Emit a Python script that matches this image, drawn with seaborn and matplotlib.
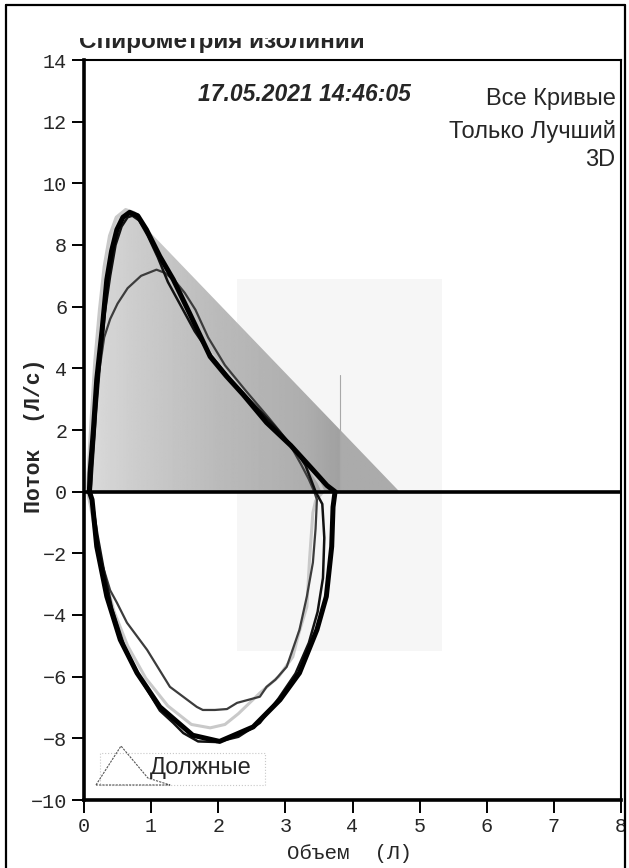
import numpy as np
import pandas as pd
import matplotlib
matplotlib.use("Agg")
import matplotlib.pyplot as plt
import seaborn as sns
from matplotlib.patches import Polygon, Rectangle
from matplotlib.lines import Line2D

# ---------------- data ----------------
x_ticks = [0, 1, 2, 3, 4, 5, 6, 7, 8]
y_ticks = [14, 12, 10, 8, 6, 4, 2, 0, -2, -4, -6, -8, -10]

# predicted ("Должные") shaded area
pred_x = [0.05, 0.10, 0.20, 0.30, 0.45, 0.60, 0.66, 4.70]
pred_y = [0.0, 2.5, 5.5, 7.5, 8.8, 9.12, 9.15, 0.0]

# trial 1 (best, thick)
exp1_x = [0.08, 0.09, 0.14, 0.19, 0.27, 0.34, 0.41, 0.49, 0.58, 0.68, 0.80, 0.93, 1.13, 1.33, 1.57, 1.88, 2.12, 2.37, 2.72, 3.08, 3.41, 3.62, 3.74]
exp1_y = [0, 0.6, 2.0, 3.64, 5.26, 6.88, 7.8, 8.5, 8.9, 9.06, 8.95, 8.5, 7.63, 6.88, 5.8, 4.38, 3.75, 3.15, 2.24, 1.5, 0.71, 0.2, 0]
insp1_x = [3.71, 3.69, 3.61, 3.47, 3.21, 2.92, 2.52, 2.02, 1.62, 1.13, 0.79, 0.54, 0.34, 0.19, 0.12, 0.08]
insp1_y = [-0.5, -1.78, -3.4, -4.48, -5.88, -6.75, -7.63, -8.1, -7.9, -6.98, -5.88, -4.8, -3.4, -1.78, -0.26, 0]

# trial 2
exp2_x = [0.10, 0.13, 0.18, 0.24, 0.31, 0.39, 0.47, 0.56, 0.65, 0.72, 0.82, 0.95, 1.10, 1.25, 1.45, 1.65, 1.90, 2.20, 2.50, 2.85, 3.15, 3.30, 3.38, 3.45]
exp2_y = [0, 1.0, 2.6, 4.2, 5.8, 7.0, 8.0, 8.6, 8.9, 8.95, 8.8, 8.3, 7.6, 6.8, 6.0, 5.2, 4.4, 3.6, 2.9, 2.1, 1.35, 0.85, 0.4, 0]
insp2_x = [3.55, 3.58, 3.56, 3.48, 3.35, 3.15, 2.90, 2.62, 2.30, 1.98, 1.70, 1.48, 1.33, 1.13, 0.85, 0.60, 0.42, 0.30, 0.20, 0.13, 0.10]
insp2_y = [-0.4, -1.5, -2.8, -3.9, -4.9, -5.9, -6.7, -7.5, -7.95, -8.12, -8.1, -7.83, -7.5, -7.1, -6.1, -5.0, -3.8, -2.6, -1.4, -0.4, 0]

# trial 3 (low peak)
exp3_x = [0.10, 0.12, 0.16, 0.22, 0.30, 0.39, 0.50, 0.65, 0.85, 1.08, 1.20, 1.35, 1.50, 1.66, 1.85, 2.10, 2.40, 2.75, 3.05, 3.23, 3.35, 3.43]
exp3_y = [0, 1.2, 2.4, 3.8, 5.0, 5.6, 6.1, 6.6, 7.0, 7.2, 7.1, 6.85, 6.45, 5.9, 5.0, 4.1, 3.3, 2.4, 1.6, 0.9, 0.4, 0]
insp3_x = [3.47, 3.45, 3.41, 3.32, 3.21, 3.02, 2.85, 2.72, 2.62, 2.28, 2.13, 1.95, 1.77, 1.68, 1.28, 0.94, 0.64, 0.49, 0.39, 0.25, 0.14, 0.10]
insp3_y = [-0.26, -1.2, -2.3, -3.4, -4.48, -5.68, -6.1, -6.33, -6.65, -6.85, -7.05, -7.08, -7.08, -6.98, -6.33, -5.13, -4.25, -3.6, -3.2, -2.2, -0.8, 0]

# trial 4 (light)
exp4_x = [0.05, 0.07, 0.11, 0.16, 0.23, 0.30, 0.38, 0.48, 0.62, 0.75, 0.90, 1.10, 1.30, 1.55, 1.85, 2.15, 2.45, 2.80, 3.10, 3.35, 3.50, 3.56]
exp4_y = [0, 1.0, 2.5, 4.2, 5.9, 7.3, 8.3, 8.9, 9.15, 9.05, 8.6, 7.8, 7.0, 5.9, 4.6, 3.8, 3.1, 2.2, 1.5, 0.8, 0.3, 0]
insp4_x = [3.45, 3.41, 3.36, 3.32, 3.20, 3.11, 2.90, 2.62, 2.30, 2.10, 1.88, 1.60, 1.25, 0.92, 0.65, 0.45, 0.30, 0.18, 0.10, 0.05]
insp4_y = [-0.3, -0.68, -2.2, -3.73, -4.6, -5.36, -6.0, -6.53, -7.2, -7.55, -7.66, -7.55, -6.95, -6.05, -5.0, -3.9, -2.7, -1.5, -0.5, 0]

fvc_line_x = 3.81
fvc_line_top = 3.8
bg_box_x = [2.28, 5.33]
bg_box_y = [-5.16, 6.9]

trials = [
    ("4", exp4_x + insp4_x, exp4_y + insp4_y, "#c9c9c9", 2.2),
    ("3", exp3_x + insp3_x, exp3_y + insp3_y, "#3c3c3c", 1.6),
    ("2", exp2_x + insp2_x, exp2_y + insp2_y, "#111111", 1.8),
    ("1", exp1_x + insp1_x, exp1_y + insp1_y, "#000000", 3.6),
]

# ---------------- figure ----------------
sns.set_style("white")
plt.rcParams["font.family"] = ["Liberation Sans", "DejaVu Sans"]

W, H = 629, 868
fig = plt.figure(figsize=(W / 100, H / 100), dpi=100)
ax = fig.add_axes([84 / W, 1 - 800 / H, (621 - 84) / W, (800 - 60) / H])

# background "3D" box
ax.add_patch(Rectangle((bg_box_x[0], bg_box_y[0]), bg_box_x[1] - bg_box_x[0],
                       bg_box_y[1] - bg_box_y[0], facecolor="#f6f6f6",
                       edgecolor="none", zorder=0))

# predicted gradient triangle
poly = Polygon(list(zip(pred_x, pred_y)), closed=True, facecolor="none",
               edgecolor="none", transform=ax.transData)
ax.add_patch(poly)
gx = np.linspace(0, 4.8, 400)
stops_x = [0.0, 0.8, 2.0, 3.3, 3.80, 3.82, 4.8]
stops_v = [0.86, 0.80, 0.73, 0.68, 0.63, 0.67, 0.67]
grad = np.interp(gx, stops_x, stops_v)[None, :]
im = ax.imshow(grad, extent=[0, 4.8, 0, 9.3], origin="lower", cmap="gray",
               vmin=0, vmax=1, aspect="auto", interpolation="bilinear", zorder=1)
im.set_clip_path(poly)
ax.plot([fvc_line_x, fvc_line_x], [0, fvc_line_top], color="#a8a8a8", lw=0.8, zorder=1.5)

# curves
for name, vx, vy, col, lw in trials:
    df = pd.DataFrame({"vol": vx, "flow": vy})
    sns.lineplot(data=df, x="vol", y="flow", sort=False, estimator=None,
                 color=col, lw=lw, ax=ax, zorder=3)

ax.axhline(0, color="black", lw=2.6, zorder=4)

ax.set_xlim(0, 8)
ax.set_ylim(-10, 14)
ax.set_xticks(x_ticks)
ax.set_yticks(y_ticks)
mono = ["Liberation Mono", "DejaVu Sans Mono"]
ax.set_xticklabels([str(t) for t in x_ticks], fontfamily=mono, fontsize=14.5)
ax.set_yticklabels([str(t).replace("-", "\u2212") for t in y_ticks], fontfamily=mono, fontsize=14.5)
ax.tick_params(axis="both", direction="out", length=9, width=1.4, color="black",
               left=True, bottom=True, top=False, right=False, pad=3)
for side, lw in [("left", 2.6), ("bottom", 2.6), ("top", 1.5), ("right", 1.5)]:
    ax.spines[side].set_visible(True)
    ax.spines[side].set_color("black")
    ax.spines[side].set_linewidth(lw)
ax.grid(False)

ax.set_xlabel("Объем  (Л)", fontfamily=mono, fontsize=15)
ax.xaxis.set_label_coords(0.495, -0.072)
ax.xaxis.label.set_va("center")
ax.set_ylabel("Поток  (Л/с)", fontfamily=mono, fontsize=15.5, fontweight="bold")
ax.yaxis.set_label_coords(-0.092, 0.492)
ax.yaxis.label.set_va("center")

# texts
ax.text(0.411, 0.953, "17.05.2021 14:46:05", transform=ax.transAxes,
        ha="center", va="center", fontsize=16.5, fontweight="bold", fontstyle="italic")
ax.text(0.990, 0.947, "Все Кривые", transform=ax.transAxes, ha="right", va="center", fontsize=17)
ax.text(0.990, 0.903, "Только Лучший", transform=ax.transAxes, ha="right", va="center", fontsize=17)
ax.text(0.990, 0.865, "3D", transform=ax.transAxes, ha="right", va="center", fontsize=17)

# legend box
ax.add_patch(Rectangle((0.0298, 0.0203), 0.307, 0.0432, transform=ax.transAxes,
                       facecolor="white", edgecolor="#c8c8c8", lw=0.8, ls=":", zorder=5))
ax.add_line(Line2D([0.0223, 0.0689, 0.119, 0.160, 0.0223], [0.0203, 0.073, 0.0297, 0.0203, 0.0203],
                   transform=ax.transAxes, color="#555555", lw=0.8, ls=(0, (2, 1)), zorder=6))
ax.text(0.123, 0.0432, "Должные", transform=ax.transAxes, ha="left", va="center",
        fontsize=17, zorder=7)

# clipped title
t = fig.text(79 / W, 1 - 48 / H, "Спирометрия изолинии", ha="left", va="baseline",
             fontsize=17.5, fontweight="bold")
clip_rect = Rectangle((0, 0), 1, 1 - 37.5 / H, transform=fig.transFigure,
                      facecolor="none", edgecolor="none")
t.set_clip_path(clip_rect)
t.set_clip_on(True)

# outer frame
fr = dict(color="black", lw=1.6, transform=fig.transFigure)
fig.add_artist(Line2D([6 / W, 6 / W], [0, 1 - 5 / H], **fr))
fig.add_artist(Line2D([6 / W, 625 / W], [1 - 5 / H, 1 - 5 / H], **fr))
fig.add_artist(Line2D([625 / W, 625 / W], [0, 1 - 5 / H], **fr))

fig.savefig("out.png", dpi=100)
